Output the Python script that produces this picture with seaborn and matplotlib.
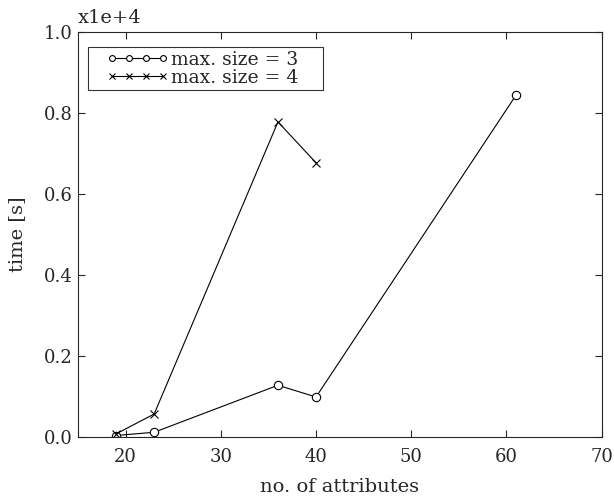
import matplotlib
matplotlib.use("Agg")
import matplotlib.pyplot as plt
from matplotlib.lines import Line2D
from matplotlib.legend_handler import HandlerLine2D
import seaborn as sns
import pandas as pd

# data (time in units of 1e4 s)
attrs_3 = [19, 23, 36, 40, 61]
time_3 = [0.004, 0.012, 0.128, 0.099, 0.844]
attrs_4 = [19, 23, 36, 40]
time_4 = [0.008, 0.057, 0.778, 0.677]

sns.set_style("ticks")
plt.rcParams['font.family'] = ['DejaVu Serif']
plt.rcParams['xtick.direction'] = 'in'
plt.rcParams['ytick.direction'] = 'in'

fig = plt.figure(figsize=(6.14, 4.99), dpi=100)
ax = fig.add_axes([0.127, 0.124, 0.853, 0.812])

df3 = pd.DataFrame({"x": attrs_3, "y": time_3})
df4 = pd.DataFrame({"x": attrs_4, "y": time_4})
sns.lineplot(data=df3, x="x", y="y", ax=ax, color="black", lw=0.8,
             marker="o", markersize=6, markerfacecolor="white",
             markeredgecolor="black", markeredgewidth=0.8,
             label="max. size = 3")
sns.lineplot(data=df4, x="x", y="y", ax=ax, color="black", lw=0.8,
             marker="x", markersize=6, markeredgecolor="black",
             markeredgewidth=0.8, label="max. size = 4")

ax.set_xlim(15, 70)
ax.set_ylim(0, 1.0)
ax.set_xticks([20, 30, 40, 50, 60, 70])
ax.set_yticks([0.0, 0.2, 0.4, 0.6, 0.8, 1.0])
ax.set_yticklabels(["0.0", "0.2", "0.4", "0.6", "0.8", "1.0"])
ax.tick_params(top=True, right=True, labelsize=13, length=5, width=0.8)
ax.tick_params(axis="x", pad=7.5)
ax.set_xlabel("no. of attributes", fontsize=14, labelpad=9)
ax.set_ylabel("time [s]", fontsize=14, labelpad=13)
ax.text(0.0, 1.012, "x1e+4", transform=ax.transAxes, fontsize=14,
        ha="left", va="bottom")
for s in ax.spines.values():
    s.set_linewidth(0.8)

# legend box stretched to the width seen in the reference
leg = ax.legend(loc="upper left", bbox_to_anchor=(0.019, 0.86, 0.4485, 0.103),
                mode="expand", numpoints=4, handlelength=4.9,
                handler_map={Line2D: HandlerLine2D(marker_pad=1.07)},
                markerscale=0.7, fontsize=13.5, frameon=True, fancybox=False,
                edgecolor="black", borderpad=0.2, labelspacing=0.0,
                handletextpad=-0.69, borderaxespad=0.0)
leg.get_frame().set_linewidth(0.8)

fig.savefig("out.png", dpi=100)
